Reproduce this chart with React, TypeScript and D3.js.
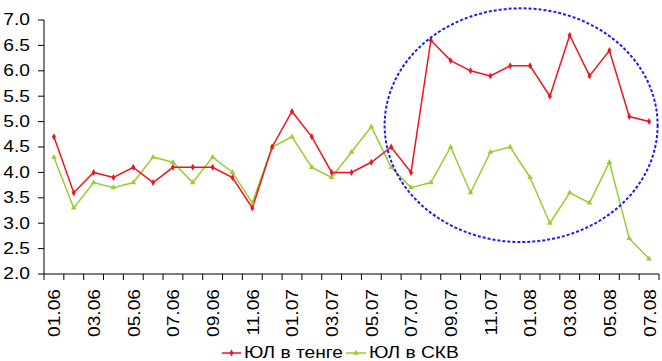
import React from "react";
import * as d3 from "d3";

const categories = [
  "01.06","02.06","03.06","04.06","05.06","06.06","07.06","08.06","09.06","10.06","11.06","12.06",
  "01.07","02.07","03.07","04.07","05.07","06.07","07.07","08.07","09.07","10.07","11.07","12.07",
  "01.08","02.08","03.08","04.08","05.08","06.08","07.08",
];
const tengeValues = [4.7,3.6,4.0,3.9,4.1,3.8,4.1,4.1,4.1,3.9,3.3,4.5,5.2,4.7,4.0,4.0,4.2,4.5,4.0,6.6,6.2,6.0,5.9,6.1,6.1,5.5,6.7,5.9,6.4,5.1,5.0];
const skvValues = [4.3,3.3,3.8,3.7,3.8,4.3,4.2,3.8,4.3,4.0,3.4,4.5,4.7,4.1,3.9,4.4,4.9,4.1,3.7,3.8,4.5,3.6,4.4,4.5,3.9,3.0,3.6,3.4,4.2,2.7,2.3];
const yTicks = [2.0,2.5,3.0,3.5,4.0,4.5,5.0,5.5,6.0,6.5,7.0];
const seriesNames = ["ЮЛ в тенге", "ЮЛ в СКВ"];
// annotation ellipse in data units: center index, center value, radius in categories, radius in value
const ellipseSpec = { ci: 23.55, cv: 4.93, ri: 6.88, rv: 2.3 };

const W = 662, H = 361;
const left = 44, right = 659, top = 20, bottom = 274;
const RED = "#f0141e";
const GREEN = "#9acd32";
const FONT = "'Liberation Sans', Arial, sans-serif";
const FS = 16;
const SX = 1.2;

export default function App() {
  const x = d3.scaleBand<string>().domain(categories).range([left, right]).padding(0);
  const cx = (i: number) => (x(categories[i]) as number) + x.bandwidth() / 2;
  const y = d3.scaleLinear().domain([2, 7]).range([bottom, top]);
  const line = d3.line<number>().x((_, i) => cx(i)).y((d) => y(d));
  const step = x.bandwidth();
  const ell = {
    cx: left + (ellipseSpec.ci + 0.5) * step,
    cy: y(ellipseSpec.cv),
    rx: ellipseSpec.ri * step,
    ry: y(0) - y(ellipseSpec.rv),
  };
  const boundaries = d3.range(categories.length + 1).map((i) => left + i * step);
  const diamond = d3.symbol(d3.symbolDiamond, 14)() || "";
  const tri = d3.symbol(d3.symbolTriangle, 14)() || "";

  return (
    <svg width={W} height={H} style={{ position: "absolute", left: 0, top: 0, fontFamily: FONT }}>
      <line x1={left} x2={left} y1={top} y2={bottom} stroke="#000" strokeWidth={1} />
      <line x1={left} x2={right} y1={bottom} y2={bottom} stroke="#000" strokeWidth={1} />
      {yTicks.map((t) => (
        <g key={t}>
          <line x1={left - 6} x2={left} y1={y(t)} y2={y(t)} stroke="#000" />
          <text
            transform={`translate(${left - 14},${y(t)}) scale(${SX},1)`}
            textAnchor="end"
            dominantBaseline="central"
            fontSize={FS}
            fill="#000"
          >
            {t.toFixed(1)}
          </text>
        </g>
      ))}
      {boundaries.map((b, i) => (
        <line key={i} x1={b} x2={b} y1={bottom} y2={bottom + 6} stroke="#000" />
      ))}
      {categories.map((c, i) =>
        i % 2 === 0 ? (
          <text
            key={c}
            transform={`translate(${cx(i) + 1},${bottom + 15}) rotate(-90) scale(${SX},1)`}
            textAnchor="end"
            dominantBaseline="central"
            fontSize={FS}
            fill="#000"
          >
            {c}
          </text>
        ) : null
      )}
      <path d={line(skvValues) || ""} fill="none" stroke={GREEN} strokeWidth={1.5} />
      <path d={line(tengeValues) || ""} fill="none" stroke={RED} strokeWidth={1.5} />
      {skvValues.map((v, i) => (
        <path key={"g" + i} d={tri} transform={`translate(${cx(i)},${y(v)})`} fill={GREEN} />
      ))}
      {tengeValues.map((v, i) => (
        <path key={"r" + i} d={diamond} transform={`translate(${cx(i)},${y(v)})`} fill={RED} />
      ))}
      <ellipse cx={ell.cx} cy={ell.cy} rx={ell.rx} ry={ell.ry} fill="none" stroke="#1a1aff" strokeWidth={2} strokeDasharray="3,2" />
      <g>
        <line x1={222} x2={241} y1={353} y2={353} stroke={RED} strokeWidth={1.5} />
        <path d={diamond} transform="translate(231.5,353)" fill={RED} />
        <text transform={`translate(244,353) scale(${SX},1)`} dominantBaseline="central" fontSize={FS} fill="#000">{seriesNames[0]}</text>
        <line x1={346} x2={366} y1={353} y2={353} stroke={GREEN} strokeWidth={1.5} />
        <path d={tri} transform="translate(356,353)" fill={GREEN} />
        <text transform={`translate(369,353) scale(${SX},1)`} dominantBaseline="central" fontSize={FS} fill="#000">{seriesNames[1]}</text>
      </g>
    </svg>
  );
}
